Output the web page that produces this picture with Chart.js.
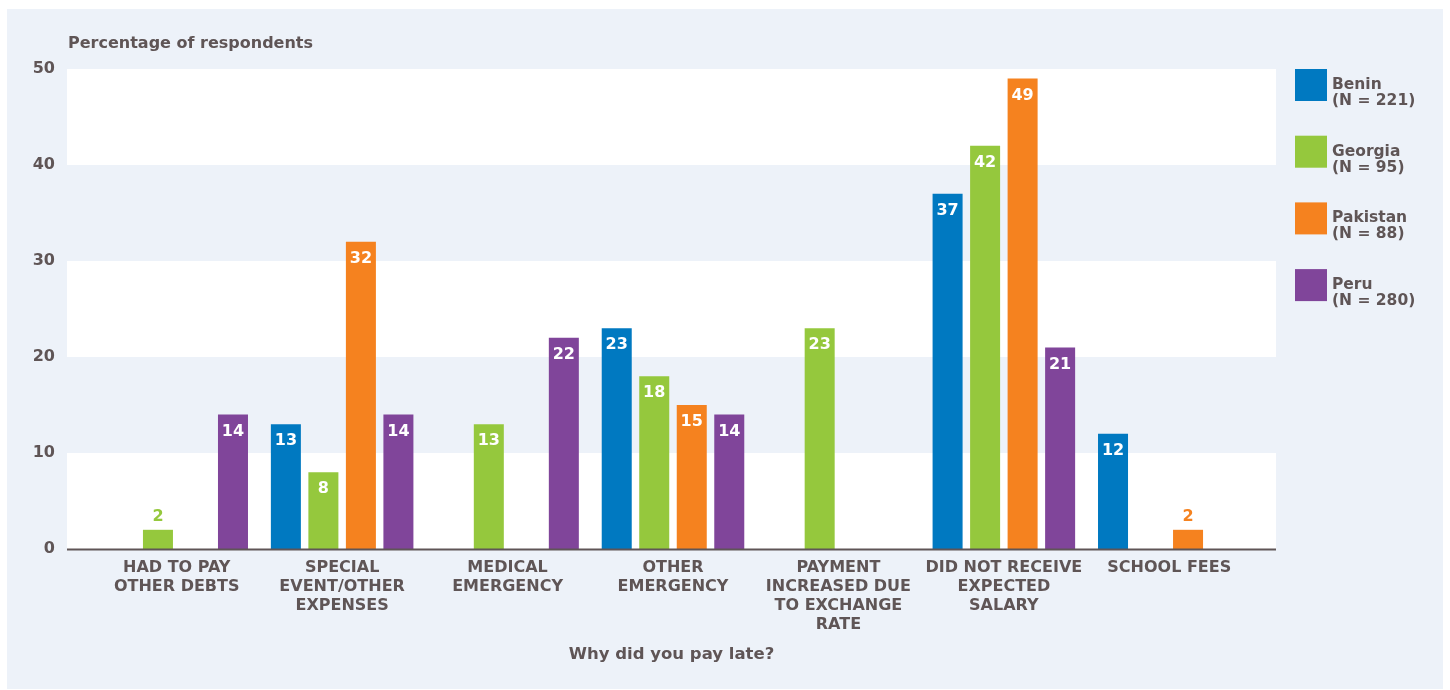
<!DOCTYPE html>
<html lang="en">
<head>
    <meta charset="UTF-8">
    <title>Why did you pay late?</title>
    <script src="https://cdn.jsdelivr.net/npm/chart.js@4.4.0/dist/chart.umd.min.js"></script>
    <style>
        body {
            margin: 0;
            background: #ffffff;
        }

        .panel {
            position: absolute;
            left: 7px;
            top: 9px;
            width: 1436px;
            height: 680px;
            background: #edf2f9;
        }

        .chart-box {
            position: absolute;
            left: 0;
            top: 0;
            width: 1450px;
            height: 690px;
        }
    </style>
</head>
<body>
    <div class="panel"></div>
    <div class="chart-box">
        <canvas id="lateChart" width="1450" height="690"></canvas>
    </div>

    <script>
        const categories = [
            ['HAD TO PAY', 'OTHER DEBTS'],
            ['SPECIAL', 'EVENT/OTHER', 'EXPENSES'],
            ['MEDICAL', 'EMERGENCY'],
            ['OTHER', 'EMERGENCY'],
            ['PAYMENT', 'INCREASED DUE', 'TO EXCHANGE', 'RATE'],
            ['DID NOT RECEIVE', 'EXPECTED', 'SALARY'],
            ['SCHOOL FEES']
        ];
        const countries = ['Benin', 'Georgia', 'Pakistan', 'Peru'];
        const sampleSizes = ['(N = 221)', '(N = 95)', '(N = 88)', '(N = 280)'];
        const countryColors = ['#0079c1', '#95c83d', '#f5821f', '#80459a'];

        const beninValues = [null, 13, null, 23, null, 37, 12];
        const georgiaValues = [2, 8, 13, 18, 23, 42, null];
        const pakistanValues = [null, 32, null, 15, null, 49, 2];
        const peruValues = [14, 14, 22, 14, null, 21, null];

        const yTicks = [0, 10, 20, 30, 40, 50];

        const textColor = '#5f5556';
        const fontFamily = '"DejaVu Sans", sans-serif';

        // bands and baseline run a little past the category axis on both sides
        const bandLeftExtra = 27;
        const bandRightExtra = 24;

        // white bands behind 0-10, 20-30, 40-50
        const bandsPlugin = {
            id: 'bands',
            beforeDatasetsDraw(chart) {
                const { ctx, chartArea, scales } = chart;
                const left = chartArea.left - bandLeftExtra;
                const right = chartArea.right + bandRightExtra;
                ctx.save();
                ctx.fillStyle = '#ffffff';
                for (let i = 0; i < yTicks.length - 1; i += 2) {
                    const yTop = scales.y.getPixelForValue(yTicks[i + 1]);
                    const yBottom = scales.y.getPixelForValue(yTicks[i]);
                    ctx.fillRect(left, yTop, right - left, yBottom - yTop);
                }
                ctx.restore();
            },
            afterDatasetsDraw(chart) {
                const { ctx, chartArea, scales } = chart;
                const y0 = Math.round(scales.y.getPixelForValue(0)) + 0.5;
                ctx.save();
                ctx.strokeStyle = textColor;
                ctx.lineWidth = 2;
                ctx.beginPath();
                ctx.moveTo(chartArea.left - bandLeftExtra, y0);
                ctx.lineTo(chartArea.right + bandRightExtra, y0);
                ctx.stroke();
                ctx.restore();
            }
        };

        // value labels: white inside the bar, or bar coloured above short bars
        const valueLabelsPlugin = {
            id: 'valueLabels',
            afterDatasetsDraw(chart) {
                const { ctx } = chart;
                ctx.save();
                ctx.font = 'bold 16px ' + fontFamily;
                ctx.textAlign = 'center';
                ctx.textBaseline = 'middle';
                chart.data.datasets.forEach((ds, di) => {
                    const meta = chart.getDatasetMeta(di);
                    meta.data.forEach((bar, i) => {
                        const v = ds.data[i];
                        if (v === null || v === undefined) return;
                        if (v >= 5) {
                            ctx.fillStyle = '#ffffff';
                            ctx.fillText(String(v), bar.x, bar.y + 17);
                        } else {
                            ctx.fillStyle = ds.backgroundColor;
                            ctx.fillText(String(v), bar.x, bar.y - 13);
                        }
                    });
                });
                ctx.restore();
            }
        };

        // axis titles and the two-line legend on the right
        const textPlugin = {
            id: 'extraText',
            afterDraw(chart) {
                const { ctx, chartArea } = chart;
                ctx.save();
                ctx.fillStyle = textColor;
                ctx.font = 'bold 16px ' + fontFamily;
                ctx.textBaseline = 'middle';
                ctx.textAlign = 'left';
                ctx.fillText('Percentage of respondents', chartArea.left - bandLeftExtra + 1, 44);

                ctx.font = 'bold 16.5px ' + fontFamily;
                ctx.textAlign = 'center';
                const midX = (chartArea.left - bandLeftExtra + chartArea.right + bandRightExtra) / 2;
                ctx.fillText('Why did you pay late?', midX, 655);

                ctx.font = 'bold 15.5px ' + fontFamily;
                ctx.textAlign = 'left';
                const legendX = chartArea.right + 43;
                chart.data.datasets.forEach((ds, i) => {
                    const top = chartArea.top + i * 66.7;
                    ctx.fillStyle = ds.backgroundColor;
                    ctx.fillRect(legendX, top, 32, 32);
                    ctx.fillStyle = textColor;
                    ctx.fillText(countries[i], legendX + 37, top + 16);
                    ctx.fillText(sampleSizes[i], legendX + 37, top + 32);
                });
                ctx.restore();
            }
        };

        const seriesValues = [beninValues, georgiaValues, pakistanValues, peruValues];

        new Chart(document.getElementById('lateChart'), {
            type: 'bar',
            data: {
                labels: categories,
                datasets: countries.map((name, i) => ({
                    label: name,
                    data: seriesValues[i],
                    backgroundColor: countryColors[i],
                    borderWidth: 0,
                    categoryPercentage: 0.907,
                    barPercentage: 0.8
                }))
            },
            options: {
                responsive: false,
                animation: false,
                devicePixelRatio: 1,
                layout: {
                    padding: { top: 69, right: 198, left: 0, bottom: 0 }
                },
                plugins: {
                    legend: { display: false },
                    tooltip: { enabled: false }
                },
                scales: {
                    x: {
                        grid: { display: false, drawTicks: false },
                        border: { display: false },
                        ticks: {
                            color: textColor,
                            font: { family: fontFamily, size: 16, weight: 'bold', lineHeight: 1.19 },
                            padding: 9,
                            maxRotation: 0,
                            autoSkip: false
                        },
                        afterFit(scale) { scale.height = 141; }
                    },
                    y: {
                        min: 0,
                        max: 50,
                        grid: { display: false, drawTicks: false },
                        border: { display: false },
                        afterBuildTicks(scale) {
                            scale.ticks = yTicks.map(v => ({ value: v }));
                        },
                        ticks: {
                            color: textColor,
                            font: { family: fontFamily, size: 16, weight: 'bold' },
                            padding: 39
                        },
                        afterFit(scale) { scale.width = 94; }
                    }
                }
            },
            plugins: [bandsPlugin, valueLabelsPlugin, textPlugin]
        });
    </script>
</body>
</html>
